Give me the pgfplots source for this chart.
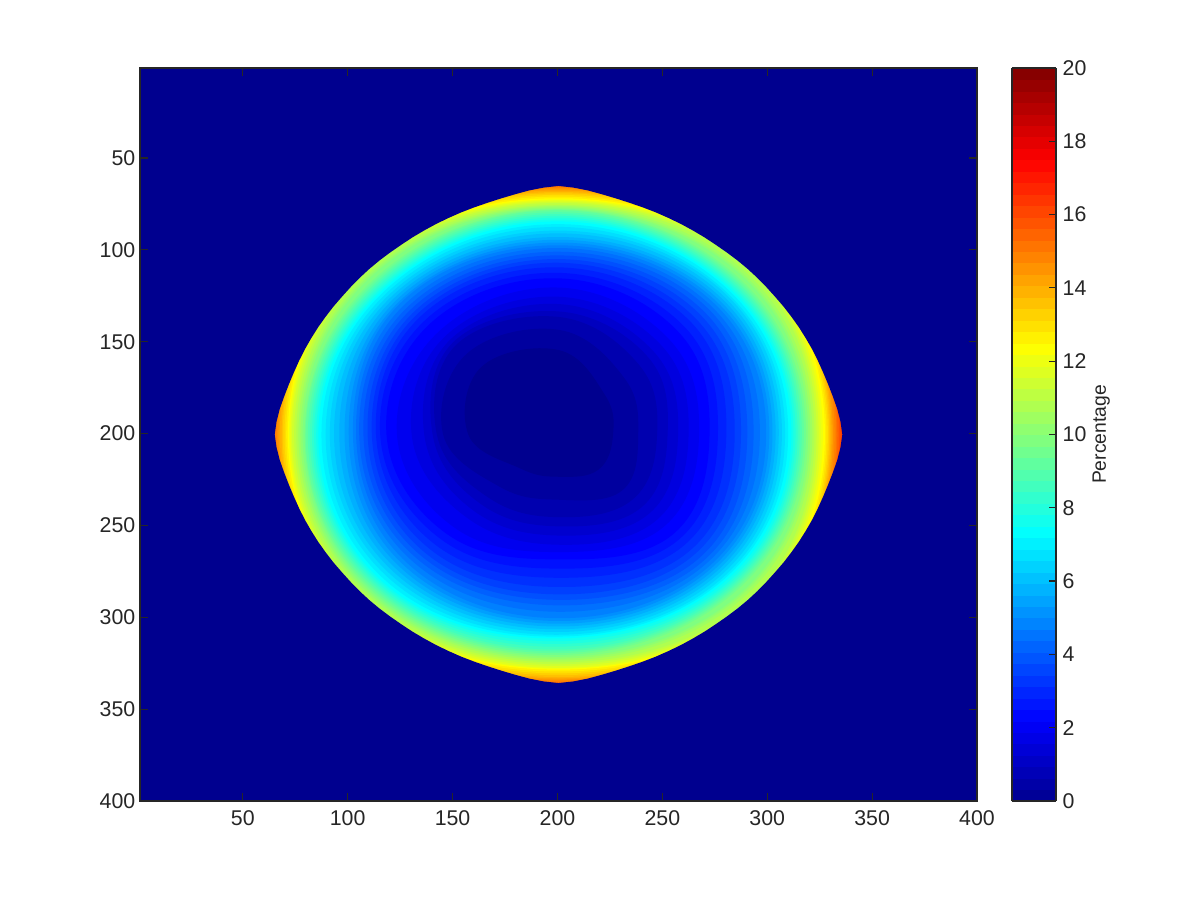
\documentclass[border=0pt]{standalone}
\usepackage{pgfplots}
\pgfplotsset{compat=1.18}
\usepackage{fontspec}
\setmainfont{Liberation Sans}
\definecolor{ink}{HTML}{262626}
\globalcolorstrue
\foreach \i in {1,...,64}{%
  \pgfmathsetmacro\cr{max(0,min(1,1.5-abs(4*\i/64-3)))}%
  \pgfmathsetmacro\cg{max(0,min(1,1.5-abs(4*\i/64-2)))}%
  \pgfmathsetmacro\cb{max(0,min(1,1.5-abs(4*\i/64-1)))}%
  \definecolor{j\i}{rgb}{\cr,\cg,\cb}%
}
\globalcolorsfalse
% one contour of the percentage: colour band, then radius from the centre at
% 0,45,90,135,180,225,270,315 degrees
\newcommand\lev[9]{\addplot[fill=j#1,draw=none,smooth cycle,tension=0.68] table[row sep=\\,
  x expr=200.5+\thisrow{r}*cos(\thisrow{a}),y expr=200.5-\thisrow{r}*sin(\thisrow{a})]
  {a r\\0 #2\\45 #3\\90 #4\\135 #5\\180 #6\\225 #7\\270 #8\\315 #9\\};}
\begin{document}
\begin{tikzpicture}
\path[use as bounding box] (0,0) rectangle (900pt,675pt);
\begin{axis}[
  at={(105pt,74.25pt)},anchor=south west,scale only axis,
  width=627.75pt,height=549.75pt,
  xmin=1,xmax=400,ymin=1,ymax=400,y dir=reverse,
  xtick={50,100,...,400},ytick={50,100,...,400},
  tick align=inside,major tick length=6pt,
  axis line style={draw=ink,line width=0.9pt},
  every tick/.style={draw=ink,line width=0.9pt},
  tick label style={font=\fontsize{16}{16}\selectfont,text=ink},
  xticklabel style={yshift=-3.5pt},
  /pgf/number format/assume math mode=true,
  axis background/.style={fill=j1},
  axis on top,
  colormap={mjet}{rgb(0cm)=(0,0,0.5625); rgb(7cm)=(0,0,1); rgb(23cm)=(0,1,1); rgb(39cm)=(1,1,0); rgb(55cm)=(1,0,0); rgb(63cm)=(0.5,0,0)},
  point meta min=0,point meta max=20,
  colorbar sampled,
  colorbar style={
    samples=65,
    at={(1.0418,1)},anchor=north west,width=33pt,
    ytick={0,2,...,20},
    ylabel={Percentage},
    ylabel style={font=\fontsize{14.5}{14.5}\selectfont,text=ink,at={(axis description cs:2.03,0.5)},anchor=center,rotate=0},
    tick align=inside,major tick length=5.5pt,
    ytick pos=right,yticklabel pos=right,
    /pgf/number format/assume math mode=true,
    axis line style={draw=ink,line width=0.9pt},
    every tick/.style={draw=ink,line width=0.9pt},
    tick label style={font=\fontsize{16}{16}\selectfont,text=ink},
    yticklabel style={xshift=1.5pt},
  },
]
\lev{52}{142}{142}{142}{142}{142}{142}{142}{142}
\lev{51}{134.5}{139.5}{138}{139.5}{138}{139.5}{137}{139.5}
\lev{50}{133.8}{139}{137}{139}{137}{139}{136}{139}
\lev{49}{133}{138.5}{136}{138.5}{136}{138.5}{135.5}{138.5}
\lev{48}{132.4}{138}{135}{138}{135}{138}{134.7}{138}
\lev{47}{131.6}{137.5}{134.2}{137.5}{134.2}{137.5}{134}{137.5}
\lev{46}{130.8}{137}{133.5}{137}{133.5}{137}{133.4}{137}
\lev{45}{130.2}{136.5}{132.8}{136.5}{132.8}{136.5}{132.7}{136.5}
\lev{44}{129.6}{136}{132}{136}{132}{136}{132}{136}
\lev{43}{129}{135.5}{131.3}{135.5}{131.4}{135.5}{131}{135.5}
\lev{42}{128.4}{134.5}{130.4}{134.5}{130.6}{134.5}{130}{134.5}
\lev{41}{127.7}{133.5}{129.5}{133.5}{129.8}{133.5}{129}{133.5}
\lev{40}{127}{132.5}{128.6}{132.5}{129}{132.5}{128}{132.5}
\lev{39}{126}{131.5}{128}{131.5}{128.4}{131.5}{127.5}{131.5}
\lev{38}{125}{130.5}{127.4}{130.5}{127.7}{130.5}{127}{130.5}
\lev{37}{124}{129.5}{126.7}{129.5}{127}{129.5}{126}{129.5}
\lev{36}{123}{128.5}{126}{128.5}{126}{128.5}{125}{128.5}
\lev{35}{122}{127.5}{125}{127.5}{125}{127.5}{124}{127.5}
\lev{34}{121}{125.5}{124.4}{126}{124}{126}{123}{125}
\lev{33}{120}{124}{123.7}{125}{123}{125}{122}{123.5}
\lev{32}{119}{123}{123}{124}{122}{124}{121}{122.5}
\lev{31}{118}{121}{122.5}{122}{121}{123}{120}{120}
\lev{30}{117}{120}{122}{121}{120.5}{122}{119}{119}
\lev{29}{116}{119}{121}{120}{119.5}{121}{118}{118}
\lev{28}{115}{118}{120}{119}{118.5}{120}{117}{117}
\lev{27}{114}{117}{119}{118}{117.5}{119}{115.5}{116}
\lev{26}{113}{116}{118}{117}{116.5}{118}{114}{115}
\lev{25}{112}{115}{117}{116}{115.5}{117}{112.5}{114}
\lev{24}{111}{114}{116}{115}{114.5}{116}{111}{112.7}
\lev{23}{109.5}{113}{114.5}{114}{113}{114.5}{110}{111.5}
\lev{22}{108}{111.5}{113}{112.5}{111}{112.5}{109}{110.5}
\lev{21}{106.5}{110.5}{111}{111}{109}{110.5}{107.5}{109}
\lev{20}{105}{109}{109.5}{109.5}{107}{108.5}{106}{107.5}
\lev{19}{103.5}{107.5}{107.5}{108}{104.5}{106.5}{104.5}{106}
\lev{18}{102}{106}{106}{106.5}{102}{104.5}{103}{104.5}
\lev{17}{100.5}{104.5}{104.5}{105}{100}{102.5}{101.5}{103}
\lev{16}{99}{103}{103}{104}{98}{100.5}{100}{101.5}
\lev{15}{96}{101}{101.5}{102}{96.5}{98}{96.5}{99.5}
\lev{14}{93}{99}{99.5}{100}{95}{95.5}{93}{97.5}
\lev{13}{90}{96.5}{97.5}{98}{93}{93}{90}{95}
\lev{12}{87}{94}{95.5}{96}{91}{90.5}{87}{92}
\lev{11}{84}{91}{93.5}{94}{89}{87.5}{83}{89}
\lev{10}{80}{88}{91}{92}{87}{84}{78}{85}
\lev{9}{76}{84}{88}{89}{85}{80}{73}{81}
\lev{8}{72}{80}{85}{86}{82}{76}{68}{77}
\lev{7}{67}{74}{80}{80}{77}{71}{64}{71}
\lev{6}{62}{69}{75}{76}{70}{63}{60}{66}
\lev{5}{57}{64}{71}{73}{64}{58}{55}{61}
\lev{4}{52}{60}{67}{71}{60}{53}{50}{56}
\lev{3}{47}{54}{64}{69}{58}{48}{45}{50}
\lev{2}{38}{44}{57}{62}{55}{40}{35.5}{43}
\lev{1}{26}{31}{46}{52}{43}{26}{23}{27}
% everything outside the rim is the flat zero colour
\addplot[fill=j1,draw=none] table[row sep=\\,
  x expr=200.5+\thisrow{r}*cos(\thisrow{a}),y expr=200.5-\thisrow{r}*sin(\thisrow{a})]
  {a r\\
  180 135.3\\183 134.6\\186 133.6\\189 132.4\\192 131.4\\195 130.6\\198 130\\201 129.5\\204 129\\207 128.6\\210 128.2\\213 127.9\\216 127.6\\219 127.5\\222 127.5\\225 127.5\\228 127.5\\231 127.5\\234 127.6\\237 127.9\\240 128.2\\243 128.6\\246 129\\249 129.5\\252 130\\255 130.6\\258 131.4\\261 132.4\\264 133.6\\267 134.6\\
  270 135.3\\273 134.6\\276 133.6\\279 132.4\\282 131.4\\285 130.6\\288 130\\291 129.5\\294 129\\297 128.6\\300 128.2\\303 127.9\\306 127.6\\309 127.5\\312 127.5\\315 127.5\\318 127.5\\321 127.5\\324 127.6\\327 127.9\\330 128.2\\333 128.6\\336 129\\339 129.5\\342 130\\345 130.6\\348 131.4\\351 132.4\\354 133.6\\357 134.6\\
  360 135.3\\363 134.6\\366 133.6\\369 132.4\\372 131.4\\375 130.6\\378 130\\381 129.5\\384 129\\387 128.6\\390 128.2\\393 127.9\\396 127.6\\399 127.5\\402 127.5\\405 127.5\\408 127.5\\411 127.5\\414 127.6\\417 127.9\\420 128.2\\423 128.6\\426 129\\429 129.5\\432 130\\435 130.6\\438 131.4\\441 132.4\\444 133.6\\447 134.6\\
  450 135.3\\453 134.6\\456 133.6\\459 132.4\\462 131.4\\465 130.6\\468 130\\471 129.5\\474 129\\477 128.6\\480 128.2\\483 127.9\\486 127.6\\489 127.5\\492 127.5\\495 127.5\\498 127.5\\501 127.5\\504 127.6\\507 127.9\\510 128.2\\513 128.6\\516 129\\519 129.5\\522 130\\525 130.6\\528 131.4\\531 132.4\\534 133.6\\537 134.6\\
  540 135.3\\540 400\\495 500\\405 500\\315 500\\225 500\\180 400\\180 135.3\\};
\end{axis}
\end{tikzpicture}
\end{document}
